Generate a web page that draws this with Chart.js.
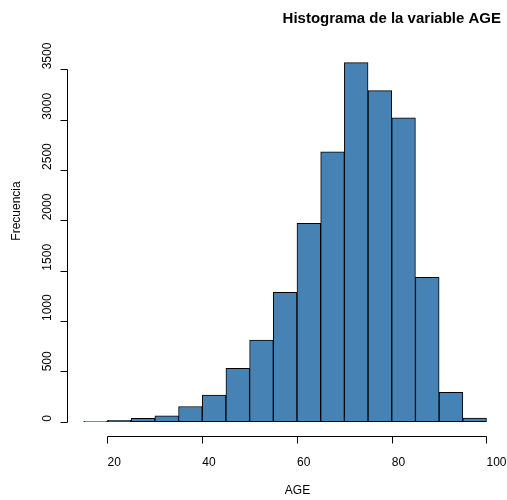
<!DOCTYPE html>
<html>
<head>
<meta charset="utf-8">
<script src="https://cdn.jsdelivr.net/npm/chart.js@4.4.1/dist/chart.umd.min.js"></script>
<style>
    html, body { margin: 0; padding: 0; background: #fff; }
    #wrap { width: 507px; height: 500px; position: relative; }
</style>
</head>
<body>
<div id="wrap"><canvas id="histChart"></canvas></div>
<script>
// Histograma de AGE - bins de 5 en 5
const binEdges = [15, 20, 25, 30, 35, 40, 45, 50, 55, 60, 65, 70, 75, 80, 85, 90, 95, 100];
const counts = [4, 12, 33, 58, 150, 265, 530, 810, 1284, 1970, 2681, 3566, 3288, 3019, 1433, 290, 35];
const xTicks = [20, 40, 60, 80, 100];
const yTicks = [0, 500, 1000, 1500, 2000, 2500, 3000, 3500];

const titleText = 'Histograma de la variable AGE';
const xLabel = 'AGE';
const yLabel = 'Frecuencia';

const FONT = '"Liberation Sans", Arial, Helvetica, sans-serif';

// one point per bin, at its midpoint
const histData = counts.map((c, i) => ({ x: (binEdges[i] + binEdges[i + 1]) / 2, y: c }));

// R pads the axis range by 4% on each side
const xMin = binEdges[0], xMax = binEdges[binEdges.length - 1];
const xPad = (xMax - xMin) * 0.04;
const yTop = Math.max(...counts);
const yPad = yTop * 0.04;

// axes drawn the R way: lines only from first to last tick
const rAxesPlugin = {
    id: 'rAxes',
    afterDraw(chart) {
        const ctx = chart.ctx;
        const xs = chart.scales.x;
        const ys = chart.scales.y;
        const area = chart.chartArea;
        const tick = 7;

        ctx.save();
        ctx.strokeStyle = '#000';
        ctx.lineWidth = 1;

        // x axis
        const by = Math.round(area.bottom) + 0.5;
        ctx.beginPath();
        ctx.moveTo(Math.round(xs.getPixelForValue(xTicks[0])) + 0.5, by);
        ctx.lineTo(Math.round(xs.getPixelForValue(xTicks[xTicks.length - 1])) + 0.5, by);
        xTicks.forEach(v => {
            const px = Math.round(xs.getPixelForValue(v)) + 0.5;
            ctx.moveTo(px, by);
            ctx.lineTo(px, by + tick);
        });
        ctx.stroke();

        // y axis
        const lx = Math.round(area.left) - 0.5;
        ctx.beginPath();
        ctx.moveTo(lx, Math.round(ys.getPixelForValue(yTicks[0])) + 0.5);
        ctx.lineTo(lx, Math.round(ys.getPixelForValue(yTicks[yTicks.length - 1])) + 0.5);
        yTicks.forEach(v => {
            const py = Math.round(ys.getPixelForValue(v)) + 0.5;
            ctx.moveTo(lx, py);
            ctx.lineTo(lx - tick, py);
        });
        ctx.stroke();

        // y tick labels, rotated, starting at the tick
        ctx.fillStyle = '#000';
        ctx.font = '12px ' + FONT;
        ctx.textAlign = 'left';
        ctx.textBaseline = 'alphabetic';
        yTicks.forEach(v => {
            const py = ys.getPixelForValue(v);
            ctx.save();
            ctx.translate(area.left - 17, py);
            ctx.rotate(-Math.PI / 2);
            ctx.fillText(String(v), 0, 0);
            ctx.restore();
        });

        // axis titles
        ctx.save();
        ctx.translate(20.3, 211);
        ctx.rotate(-Math.PI / 2);
        ctx.textAlign = 'center';
        ctx.fillText(yLabel, 0, 0);
        ctx.restore();

        ctx.textAlign = 'center';
        ctx.fillText(xLabel, 297.5, 494);

        // main title
        ctx.font = 'bold 15px ' + FONT;
        ctx.textAlign = 'right';
        ctx.fillText(titleText, 501, 22.7);

        ctx.restore();
    }
};

const ctx = document.getElementById('histChart').getContext('2d');
const histChart = new Chart(ctx, {
    type: 'bar',
    data: {
        datasets: [{
            label: xLabel,
            data: histData,
            backgroundColor: '#4682B4',
            borderColor: '#000',
            borderWidth: 1,
            borderSkipped: false,
            barPercentage: 1.0,
            categoryPercentage: 1.0
        }]
    },
    options: {
        responsive: true,
        maintainAspectRatio: false,
        devicePixelRatio: 1,
        animation: false,
        layout: {
            padding: { top: 48.3, right: 4.4, left: 0, bottom: 0 }
        },
        plugins: {
            legend: { display: false },
            tooltip: { enabled: false },
            title: { display: false }
        },
        scales: {
            x: {
                type: 'linear',
                offset: false,
                min: xMin - xPad,
                max: xMax + xPad,
                afterBuildTicks: scale => { scale.ticks = xTicks.map(v => ({ value: v })); },
                afterFit: scale => {
                    scale.height = 64;
                    scale.paddingLeft = 0;
                    scale.paddingRight = 0;
                },
                grid: { display: false, drawTicks: false, offset: false },
                border: { display: false },
                ticks: {
                    color: '#000',
                    align: 'start',
                    padding: 19,
                    font: { family: FONT, size: 12 },
                    maxRotation: 0,
                    autoSkip: false
                }
            },
            y: {
                min: -yPad,
                max: yTop + yPad,
                afterBuildTicks: scale => { scale.ticks = yTicks.map(v => ({ value: v })); },
                afterFit: scale => {
                    scale.width = 67.7;
                    scale.paddingTop = 0;
                    scale.paddingBottom = 0;
                },
                grid: { display: false, drawTicks: false },
                border: { display: false },
                ticks: { display: false }
            }
        }
    },
    plugins: [rAxesPlugin]
});
</script>
</body>
</html>
